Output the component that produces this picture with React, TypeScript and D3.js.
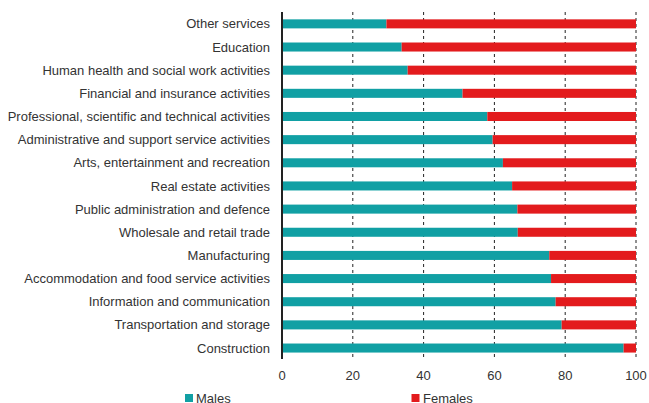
import React from "react";
import * as d3 from "d3";

const categories = [
  "Other services",
  "Education",
  "Human health and social work activities",
  "Financial and insurance activities",
  "Professional, scientific and technical activities",
  "Administrative and support service activities",
  "Arts, entertainment and recreation",
  "Real estate activities",
  "Public administration and defence",
  "Wholesale and retail trade",
  "Manufacturing",
  "Accommodation and food service activities",
  "Information and communication",
  "Transportation and storage",
  "Construction",
];
const males = [29.5, 33.8, 35.5, 51.0, 58.0, 59.5, 62.4, 65.0, 66.5, 66.6, 75.5, 76.0, 77.3, 79.0, 96.5];
const females = males.map((m) => 100 - m);
const ticks = [0, 20, 40, 60, 80, 100];
const seriesNames = ["Males", "Females"];
const colors = ["#11a0a4", "#e31b1d"];

export default function App() {
  const W = 649, H = 403;
  const x = d3.scaleLinear().domain([0, 100]).range([282, 636]);
  const y = d3.scaleBand().domain(categories).range([12.4, 359.5]).paddingInner(0.61).paddingOuter(0.3);
  const font = "'Liberation Sans', Arial, sans-serif";
  return (
    <svg width={W} height={H} style={{ position: "absolute", left: 0, top: 0 }} fontFamily={font}>
      {ticks.filter((t) => t > 0).map((t) => (
        <line key={t} x1={x(t)} x2={x(t)} y1={12} y2={359} stroke="#222" strokeWidth={1} strokeDasharray="3,3" />
      ))}
      {categories.map((c, i) => (
        <g key={c}>
          <rect x={x(0)} y={y(c)} width={x(males[i]) - x(0)} height={y.bandwidth()} fill={colors[0]} />
          <rect x={x(males[i])} y={y(c)} width={x(100) - x(males[i])} height={y.bandwidth()} fill={colors[1]} />
          <text x={270} y={(y(c) as number) + y.bandwidth() / 2} dy="0.35em" textAnchor="end" fontSize={13} fill="#333">
            {c}
          </text>
        </g>
      ))}
      <line x1={x(0)} x2={x(0)} y1={12} y2={359} stroke="#222" strokeWidth={2} />
      {ticks.map((t) => (
        <text key={t} x={x(t)} y={375} dy="0.35em" textAnchor="middle" fontSize={13} fill="#333">
          {t}
        </text>
      ))}
      <rect x={185} y={394} width={8} height={8} fill={colors[0]} />
      <text x={196} y={403} fontSize={13} fill="#333">{seriesNames[0]}</text>
      <rect x={411.5} y={394} width={8} height={8} fill={colors[1]} />
      <text x={423} y={403} fontSize={13} fill="#333">{seriesNames[1]}</text>
    </svg>
  );
}
